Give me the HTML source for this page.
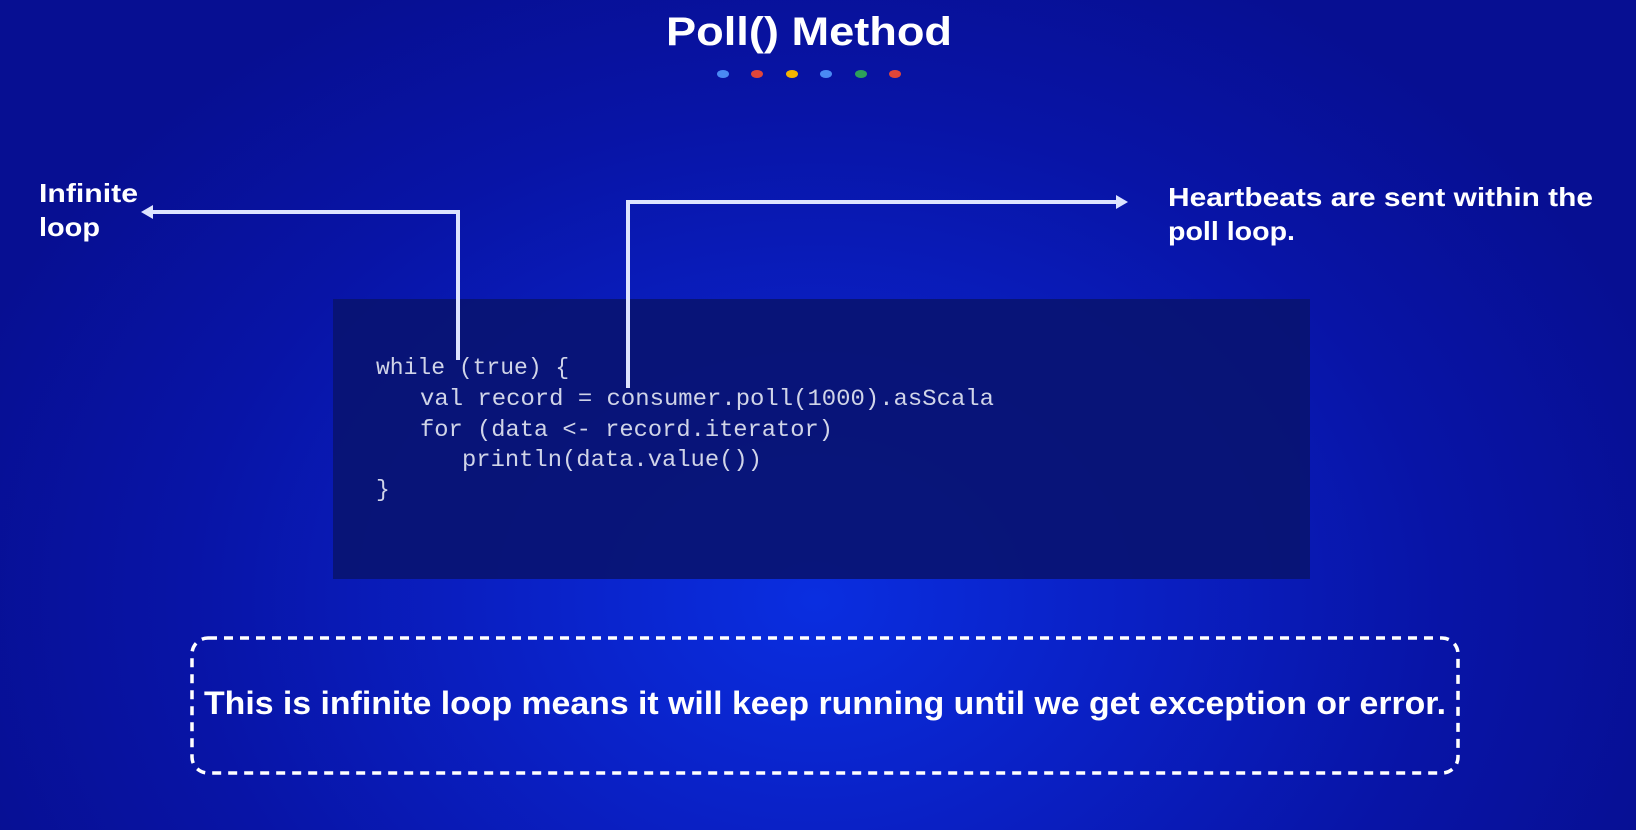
<!DOCTYPE html>
<html><head><meta charset="utf-8"><style>
html,body{margin:0;padding:0;width:1636px;height:830px;overflow:hidden}
body{background:radial-gradient(ellipse 900px 700px at 815px 600px,#0a2ee0 0%,#0a20c4 35%,#0814a6 70%,#070f92 100%)}
svg{position:absolute;left:0;top:0}
</style></head><body>
<svg width="1636" height="830" viewBox="0 0 1636 830" xmlns="http://www.w3.org/2000/svg">
<rect x="333" y="299" width="977" height="280" fill="#091372" opacity="0.92"/>
<text x="666" y="45" textLength="286" lengthAdjust="spacingAndGlyphs" font-family="Liberation Sans, sans-serif" font-weight="bold" font-size="40" fill="#fff">Poll() Method</text>
<g>
<ellipse cx="723" cy="74" rx="6" ry="4" fill="#4a8af4"/>
<ellipse cx="757" cy="74" rx="6" ry="4" fill="#e0463a"/>
<ellipse cx="792" cy="74" rx="6" ry="4" fill="#f4b400"/>
<ellipse cx="826" cy="74" rx="6" ry="4" fill="#4a8af4"/>
<ellipse cx="861" cy="74" rx="6" ry="4" fill="#2da05a"/>
<ellipse cx="895" cy="74" rx="6" ry="4" fill="#e0463a"/>
</g>
<g font-family="Liberation Sans, sans-serif" font-weight="bold" font-size="26" fill="#fff">
<text x="39" y="202" textLength="99" lengthAdjust="spacingAndGlyphs">Infinite</text>
<text x="39" y="236" textLength="61" lengthAdjust="spacingAndGlyphs">loop</text>
<text x="1168" y="206" textLength="425" lengthAdjust="spacingAndGlyphs">Heartbeats are sent within the</text>
<text x="1168" y="240" textLength="127" lengthAdjust="spacingAndGlyphs">poll loop.</text>
</g>
<g stroke="#dde4ff" stroke-width="4" fill="none">
<polyline points="458,360 458,212 150,212"/>
<polyline points="628,388 628,202 1118,202"/>
</g>
<polygon points="141,212 153,205 153,219" fill="#dde4ff"/>
<polygon points="1128,202 1116,195 1116,209" fill="#dde4ff"/>
<g font-family="Liberation Mono, monospace" font-size="23" fill="#d0d4e8" xml:space="preserve">
<text x="376" y="374">while (true) {</text>
<text x="420" y="405" textLength="574" lengthAdjust="spacingAndGlyphs">val record = consumer.poll(1000).asScala</text>
<text x="420" y="436" textLength="413" lengthAdjust="spacingAndGlyphs">for (data &lt;- record.iterator)</text>
<text x="462" y="466" textLength="300" lengthAdjust="spacingAndGlyphs">println(data.value())</text>
<text x="376" y="496">}</text>
</g>
<rect x="192" y="638" width="1266" height="135" rx="16" ry="16" fill="none" stroke="#fff" stroke-width="3.5" stroke-dasharray="9 7"/>
<text x="204" y="714" textLength="1242" lengthAdjust="spacingAndGlyphs" font-family="Liberation Sans, sans-serif" font-weight="bold" font-size="32" fill="#fff">This is infinite loop means it will keep running until we get exception or error.</text>
</svg>
</body></html>
